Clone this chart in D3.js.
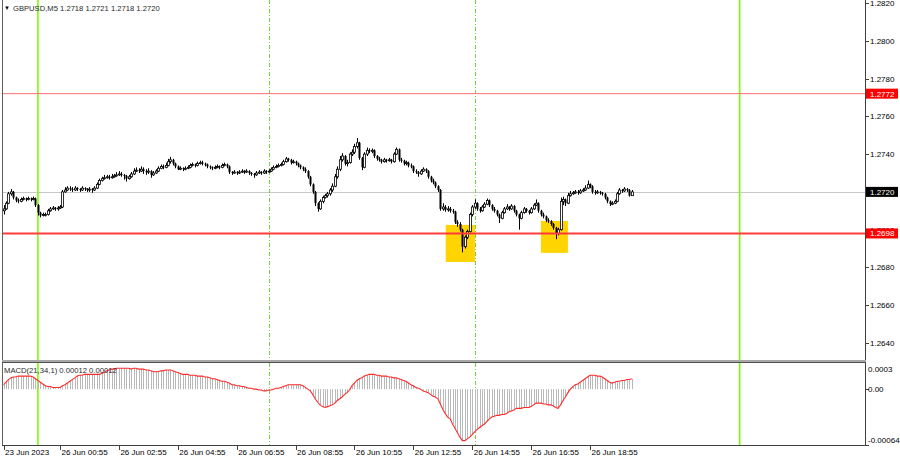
<!DOCTYPE html>
<html><head><meta charset="utf-8">
<script src="https://cdn.jsdelivr.net/npm/d3@7"></script>
<style>
body{margin:0;background:#fff;}
svg{display:block;}
text{font-family:"Liberation Sans",Arial,sans-serif;font-size:8px;fill:#000;}
</style>
</head><body>
<svg id="c" width="900" height="460"></svg>
<script>
// ---------- DATA ----------
const symbolTitle = "GBPUSD,M5";
const lastOHLC = ["1.2718","1.2721","1.2718","1.2720"];
const macdTitle = "MACD(21,34,1) 0.00012 0.00012";

const opens = [
1.2710,1.2711,1.2714,1.2719,1.2720,1.2717,1.27155,1.2715,1.2716,1.27165,
1.2716,1.27165,1.2716,1.27165,1.2713,1.2709,1.27075,1.2708,1.2708,1.2710,
1.2711,1.27115,1.2711,1.27115,1.2712,1.2720,1.2721,1.2722,1.27215,1.2721,
1.2722,1.27215,1.2721,1.2722,1.27215,1.2721,1.27215,1.2721,1.2722,1.2724,
1.2726,1.2727,1.27275,1.2728,1.27275,1.2728,1.27285,1.2729,1.27295,1.2729,
1.27285,1.2727,1.2728,1.27295,1.2731,1.27315,1.2731,1.2732,1.2731,1.27305,
1.2731,1.2729,1.2730,1.2731,1.27325,1.27335,1.2733,1.2734,1.2736,1.2737,
1.2735,1.27335,1.2732,1.27325,1.2732,1.27325,1.2733,1.2734,1.27345,1.2734,
1.2735,1.27355,1.2735,1.27345,1.27335,1.2733,1.27325,1.2733,1.27335,1.2733,
1.2734,1.27345,1.27335,1.27305,1.2730,1.27305,1.2730,1.27305,1.2731,1.27305,
1.2731,1.2730,1.27295,1.2729,1.2730,1.27305,1.2730,1.2731,1.27305,1.2731,
1.2732,1.2733,1.27335,1.2734,1.27345,1.2736,1.27375,1.2737,1.27355,1.2736,
1.2735,1.2734,1.2733,1.2732,1.2731,1.2728,1.2724,1.2720,1.2714,1.2711,
1.2715,1.2717,1.2718,1.2719,1.2721,1.2723,1.2728,1.2732,1.2737,1.2739,
1.2735,1.27355,1.2740,1.2741,1.2744,1.2746,1.2738,1.2733,1.2740,1.2742,
1.27415,1.2742,1.2739,1.27375,1.2737,1.2736,1.2737,1.27365,1.2737,1.2736,
1.2740,1.27425,1.2737,1.27365,1.2735,1.27355,1.2734,1.27335,1.2731,1.27305,
1.27295,1.2731,1.2732,1.2731,1.2728,1.2726,1.2725,1.2723,1.2721,1.2711,
1.2712,1.27105,1.2711,1.2710,1.27095,1.2704,1.2703,1.2700,1.2691,1.2696,
1.2699,1.2708,1.2712,1.2714,1.2711,1.2710,1.2712,1.27135,1.27155,1.2713,
1.2711,1.2710,1.2708,1.2706,1.2709,1.2711,1.2712,1.2711,1.27125,1.2710,
1.2708,1.2706,1.2709,1.2711,1.2710,1.2709,1.2711,1.2713,1.2714,1.2710,
1.2708,1.2707,1.2705,1.27045,1.2703,1.2701,1.2698,1.2700,1.2715,1.2716,
1.2714,1.2718,1.2719,1.27195,1.2720,1.27195,1.27205,1.2721,1.2722,1.2724,
1.2723,1.2720,1.27195,1.2720,1.27195,1.2719,1.2717,1.2715,1.27135,1.2714,
1.2715,1.2719,1.2721,1.27205,1.27215,1.2721,1.2718];

const highs = [
1.2713,1.2715,1.2720,1.27215,1.27205,1.27175,1.27165,1.2717,1.27175,1.2717,
1.27175,1.2717,1.27175,1.2717,1.27135,1.27095,1.2709,1.2709,1.2711,1.2712,
1.27125,1.2712,1.27125,1.2713,1.2721,1.27225,1.2723,1.2723,1.27225,1.2723,
1.27225,1.2722,1.2723,1.27225,1.2722,1.27225,1.2722,1.2723,1.2725,1.2727,
1.2728,1.2729,1.2729,1.2729,1.27295,1.27295,1.27305,1.2731,1.27305,1.27295,
1.2729,1.2729,1.27305,1.27325,1.2733,1.27325,1.27335,1.2733,1.2732,1.27325,
1.27315,1.2731,1.2732,1.27335,1.27345,1.27345,1.27355,1.27375,1.27385,1.27375,
1.27355,1.2734,1.27335,1.2733,1.27335,1.2734,1.2735,1.27355,1.2735,1.2736,
1.27365,1.27365,1.27355,1.2735,1.2734,1.27335,1.2734,1.27345,1.2734,1.2735,
1.27355,1.2735,1.2734,1.2731,1.27315,1.2731,1.27315,1.2732,1.27315,1.2732,
1.27315,1.27305,1.2730,1.2731,1.27315,1.2731,1.2732,1.27315,1.2732,1.2733,
1.2734,1.27345,1.2735,1.27355,1.2737,1.27385,1.2738,1.27375,1.2737,1.27365,
1.27355,1.27345,1.27335,1.2733,1.27315,1.27285,1.27245,1.27205,1.27145,1.2716,
1.2718,1.2719,1.2720,1.2722,1.27245,1.27295,1.27335,1.2739,1.27405,1.27395,
1.2737,1.2741,1.27425,1.27455,1.27485,1.27465,1.27385,1.2741,1.27435,1.2743,
1.2743,1.27425,1.27395,1.27385,1.27375,1.2738,1.27375,1.2738,1.27375,1.2741,
1.27435,1.2743,1.2738,1.2737,1.27365,1.2736,1.2735,1.2734,1.2732,1.2731,
1.2732,1.2733,1.27325,1.27315,1.27285,1.2727,1.27255,1.27235,1.27215,1.2714,
1.2713,1.27125,1.2712,1.2711,1.2710,1.2705,1.2704,1.27005,1.2697,1.2700,
1.2709,1.2713,1.2716,1.27145,1.2712,1.2713,1.27145,1.27165,1.2716,1.27135,
1.2712,1.27105,1.27085,1.2710,1.2712,1.27135,1.27125,1.27135,1.2713,1.27105,
1.27085,1.2710,1.2712,1.27115,1.27105,1.2712,1.2714,1.2716,1.27145,1.27105,
1.2709,1.27075,1.2706,1.2705,1.27035,1.27015,1.2701,1.2717,1.27175,1.27165,
1.27195,1.27205,1.27205,1.2721,1.2721,1.27215,1.2722,1.27235,1.2726,1.27245,
1.27235,1.2721,1.2721,1.27205,1.2720,1.27195,1.27175,1.27155,1.2715,1.2716,
1.2720,1.2722,1.27215,1.27225,1.2722,1.27215,1.2721];

const lows = [
1.2708,1.27105,1.27135,1.2718,1.2716,1.27145,1.2714,1.27145,1.27155,1.2715,
1.27155,1.2715,1.27155,1.2712,1.27075,1.27065,1.2707,1.2707,1.27075,1.27095,
1.27105,1.2710,1.2710,1.2711,1.27115,1.27195,1.27205,1.27205,1.2720,1.27205,
1.27205,1.2720,1.27205,1.27205,1.2720,1.2720,1.27195,1.27205,1.27215,1.27235,
1.27255,1.27265,1.2727,1.27265,1.2727,1.27275,1.2728,1.27285,1.2728,1.27265,
1.27255,1.27265,1.27275,1.2729,1.27305,1.2730,1.27305,1.27295,1.2729,1.27295,
1.27275,1.27285,1.27295,1.27305,1.2732,1.2732,1.27325,1.27335,1.2735,1.2734,
1.27325,1.27315,1.27315,1.2731,1.27315,1.2732,1.27325,1.27335,1.2733,1.27335,
1.27345,1.2734,1.27335,1.27325,1.2732,1.27315,1.2732,1.27325,1.2732,1.27325,
1.27335,1.27325,1.27295,1.2729,1.27295,1.2729,1.27295,1.2730,1.27295,1.2730,
1.2729,1.27285,1.27275,1.27285,1.27295,1.2729,1.27295,1.27295,1.2730,1.27305,
1.27315,1.27325,1.2733,1.27335,1.2734,1.27355,1.2736,1.27345,1.2735,1.2734,
1.2733,1.2732,1.2731,1.2730,1.2727,1.2723,1.2719,1.27125,1.27095,1.27105,
1.2714,1.27165,1.2717,1.2718,1.2720,1.27225,1.2727,1.2731,1.2736,1.2734,
1.27335,1.2735,1.2739,1.2740,1.2743,1.2737,1.27315,1.27325,1.2739,1.27405,
1.27405,1.2738,1.27365,1.2736,1.2735,1.27355,1.27355,1.2736,1.2735,1.27355,
1.27395,1.2736,1.27355,1.2734,1.2734,1.2733,1.27325,1.2730,1.27295,1.2728,
1.2729,1.27305,1.2730,1.2727,1.2725,1.2724,1.2722,1.2720,1.2710,1.2710,
1.27095,1.27095,1.2709,1.27085,1.2703,1.27015,1.2699,1.2688,1.2690,1.2695,
1.26985,1.2707,1.2711,1.2710,1.2709,1.27095,1.27115,1.2713,1.2712,1.2710,
1.2709,1.2707,1.27035,1.27055,1.27085,1.27105,1.2710,1.27105,1.2709,1.2707,
1.2700,1.27055,1.27085,1.2709,1.2708,1.27085,1.27105,1.27125,1.2709,1.2707,
1.2706,1.2704,1.27035,1.2702,1.2700,1.2695,1.2697,1.26995,1.2713,1.27125,
1.27135,1.27175,1.27185,1.2719,1.27185,1.2719,1.2720,1.27205,1.27215,1.2722,
1.2719,1.27185,1.2719,1.27185,1.2718,1.2716,1.2714,1.27125,1.2713,1.27135,
1.27145,1.27185,1.27195,1.2720,1.2720,1.27175,1.2718];

const closes = [
1.2711,1.2714,1.2719,1.2720,1.2717,1.27155,1.2715,1.2716,1.27165,1.2716,
1.27165,1.2716,1.27165,1.2713,1.2709,1.27075,1.2708,1.2708,1.2710,1.2711,
1.27115,1.2711,1.27115,1.2712,1.2720,1.2721,1.2722,1.27215,1.2721,1.2722,
1.27215,1.2721,1.2722,1.27215,1.2721,1.27215,1.2721,1.2722,1.2724,1.2726,
1.2727,1.27275,1.2728,1.27275,1.2728,1.27285,1.2729,1.27295,1.2729,1.27285,
1.2727,1.2728,1.27295,1.2731,1.27315,1.2731,1.2732,1.2731,1.27305,1.2731,
1.2729,1.2730,1.2731,1.27325,1.27335,1.2733,1.2734,1.2736,1.2737,1.2735,
1.27335,1.2732,1.27325,1.2732,1.27325,1.2733,1.2734,1.27345,1.2734,1.2735,
1.27355,1.2735,1.27345,1.27335,1.2733,1.27325,1.2733,1.27335,1.2733,1.2734,
1.27345,1.27335,1.27305,1.2730,1.27305,1.2730,1.27305,1.2731,1.27305,1.2731,
1.2730,1.27295,1.2729,1.2730,1.27305,1.2730,1.2731,1.27305,1.2731,1.2732,
1.2733,1.27335,1.2734,1.27345,1.2736,1.27375,1.2737,1.27355,1.2736,1.2735,
1.2734,1.2733,1.2732,1.2731,1.2728,1.2724,1.2720,1.2714,1.2711,1.2715,
1.2717,1.2718,1.2719,1.2721,1.2723,1.2728,1.2732,1.2737,1.2739,1.2735,
1.27355,1.2740,1.2741,1.2744,1.2746,1.2738,1.2733,1.2740,1.2742,1.27415,
1.2742,1.2739,1.27375,1.2737,1.2736,1.2737,1.27365,1.2737,1.2736,1.2740,
1.27425,1.2737,1.27365,1.2735,1.27355,1.2734,1.27335,1.2731,1.27305,1.27295,
1.2731,1.2732,1.2731,1.2728,1.2726,1.2725,1.2723,1.2721,1.2711,1.2712,
1.27105,1.2711,1.2710,1.27095,1.2704,1.2703,1.2700,1.2691,1.2696,1.2699,
1.2708,1.2712,1.2714,1.2711,1.2710,1.2712,1.27135,1.27155,1.2713,1.2711,
1.2710,1.2708,1.2706,1.2709,1.2711,1.2712,1.2711,1.27125,1.2710,1.2708,
1.2706,1.2709,1.2711,1.2710,1.2709,1.2711,1.2713,1.2714,1.2710,1.2708,
1.2707,1.2705,1.27045,1.2703,1.2701,1.2698,1.2700,1.2715,1.2716,1.2714,
1.2718,1.2719,1.27195,1.2720,1.27195,1.27205,1.2721,1.2722,1.2724,1.2723,
1.2720,1.27195,1.2720,1.27195,1.2719,1.2717,1.2715,1.27135,1.2714,1.2715,
1.2719,1.2721,1.27205,1.27215,1.2721,1.2718,1.2720];

const macd = [
0.00005,0.00008,0.00011,0.00013,0.00014,0.00014,0.00015,0.00015,0.00015,0.00015,
0.00015,0.00015,0.00014,0.00012,0.00010,0.00008,0.00006,0.00004,0.00003,0.00003,
0.00002,0.00002,0.00002,0.00002,0.00004,0.00005,0.00007,0.00009,0.00011,0.00013,
0.00015,0.00016,0.00016,0.00017,0.00017,0.00017,0.00017,0.00017,0.00017,0.00017,
0.00018,0.00019,0.00021,0.00022,0.00023,0.00023,0.00024,0.00024,0.00024,0.00024,
0.00024,0.00024,0.00023,0.00024,0.00024,0.00023,0.00023,0.00023,0.00022,0.00022,
0.00021,0.00020,0.00020,0.00020,0.00021,0.00021,0.00022,0.00022,0.00022,0.00021,
0.00020,0.00019,0.00018,0.00017,0.00017,0.00017,0.00016,0.00016,0.00016,0.00015,
0.00015,0.00015,0.00014,0.00014,0.00013,0.00012,0.00012,0.00011,0.00010,0.00009,
0.00009,0.00008,0.00007,0.00005,0.00005,0.00004,0.00004,0.00003,0.00003,0.00002,
0.00001,0.00001,0,0,-0.00001,-0.00001,-0.00002,-0.00002,-0.00001,-0.00001,
0,0.00001,0.00001,0.00002,0.00003,0.00004,0.00005,0.00005,0.00005,0.00005,
0.00005,0.00005,0.00004,0.00002,0,-0.00002,-0.00006,-0.00011,-0.00015,-0.00018,
-0.00020,-0.00021,-0.00020,-0.00019,-0.00018,-0.00016,-0.00013,-0.00011,-0.00009,-0.00006,
-0.00004,-0.00001,0.00004,0.00007,0.00010,0.00012,0.00013,0.00015,0.00016,0.00017,
0.00017,0.00017,0.00016,0.00016,0.00015,0.00015,0.00015,0.00014,0.00014,0.00013,
0.00013,0.00012,0.00011,0.00010,0.00009,0.00007,0.00005,0.00004,0.00002,0.00001,
0,-0.00002,-0.00003,-0.00004,-0.00006,-0.00008,-0.00009,-0.00011,-0.00017,-0.00023,
-0.00028,-0.00032,-0.00034,-0.00040,-0.00045,-0.00050,-0.00055,-0.00059,-0.00059,-0.00057,
-0.00055,-0.00052,-0.00049,-0.00046,-0.00044,-0.00042,-0.00040,-0.00037,-0.00034,-0.00032,
-0.00031,-0.00030,-0.00030,-0.00029,-0.00029,-0.00028,-0.00026,-0.00025,-0.00024,-0.00022,
-0.00022,-0.00022,-0.00021,-0.00021,-0.00021,-0.00020,-0.00018,-0.00016,-0.00016,-0.00016,
-0.00017,-0.00017,-0.00018,-0.00018,-0.00019,-0.00021,-0.00022,-0.00018,-0.00013,-0.00009,
-0.00004,0,0.00003,0.00005,0.00006,0.00008,0.00010,0.00012,0.00014,0.00016,
0.00016,0.00016,0.00015,0.00015,0.00014,0.00012,0.00010,0.00008,0.00007,0.00008,
0.00009,0.00009,0.00010,0.00010,0.00011,0.00011,0.00012];

const priceTicks = [1.2820,1.2800,1.2780,1.2760,1.2740,1.2720,1.2700,1.2680,1.2660,1.2640];
const macdTickValues = [0.0003, 0, -0.00064];
const macdTickLabels = ["0.0003","0.00","-0.00064"];
const timeTickBars = [0,23,47,71,95,119,143,167,191,215,239];
const timeTickLabels = ["23 Jun 2023","26 Jun 00:55","26 Jun 02:55","26 Jun 04:55","26 Jun 06:55",
  "26 Jun 08:55","26 Jun 10:55","26 Jun 12:55","26 Jun 14:55","26 Jun 16:55","26 Jun 18:55"];
const levelPrices = [1.2772, 1.2698];
const bidPrice = 1.2720;
const dayLineBars = [14, 300];
const sessionLineBars = [108, 192];
// yellow zones: [startBar, endBar] and [topPrice, bottomPrice]
const zoneBars = [[180.2, 192.1], [219.0, 230.0]];
const zonePrices = [[1.27025, 1.26829], [1.27046, 1.26877]];

// ---------- LAYOUT ----------
const L = 2, R = 865, mainTop = 0, mainBot = 360, mTop = 363, mBot = 445;
const x = d3.scaleLinear().domain([0, 256]).range([3.57, 631.7]);
const y = d3.scaleLinear().domain([1.2640, 1.2820]).range([343, 3]);
const ym = d3.scaleLinear().domain([-0.00064, 0.0003]).range([mBot, mTop]);
const fmt4 = d3.format(".4f");

const svg = d3.select("#c");
const defs = svg.append("defs");
defs.append("clipPath").attr("id","cm").append("rect").attr("x",L).attr("y",mainTop).attr("width",R-L).attr("height",mainBot-mainTop);
defs.append("clipPath").attr("id","cd").append("rect").attr("x",L).attr("y",mTop).attr("width",R-L).attr("height",mBot-mTop);

const gm = svg.append("g").attr("clip-path","url(#cm)");
const gd = svg.append("g").attr("clip-path","url(#cd)");

// zones
gm.selectAll("rect.zone").data(zoneBars).join("rect").attr("class","zone")
  .attr("x", d => x(d[0])).attr("width", d => x(d[1]) - x(d[0]))
  .attr("y", (d,i) => y(zonePrices[i][0]))
  .attr("height", (d,i) => y(zonePrices[i][1]) - y(zonePrices[i][0]))
  .attr("fill", "#ffd400");

// bid line
gm.append("line").attr("x1",L).attr("x2",R).attr("y1",Math.round(y(bidPrice))+0.5).attr("y2",Math.round(y(bidPrice))+0.5)
  .attr("stroke","#c8c8c8").attr("stroke-width",1);

// vertical lines in both panels
[[gm, mainTop, mainBot],[gd, mTop, mBot]].forEach(([g, t, b]) => {
  g.selectAll("line.day").data(dayLineBars).join("line").attr("class","day")
    .attr("x1", d => x(d)).attr("x2", d => x(d)).attr("y1", t).attr("y2", b)
    .attr("stroke","#7cfc00").attr("stroke-width",1.6);
  g.selectAll("line.sess").data(sessionLineBars).join("line").attr("class","sess")
    .attr("x1", d => Math.round(x(d))+0.5).attr("x2", d => Math.round(x(d))+0.5).attr("y1", t).attr("y2", b)
    .attr("stroke","#78d23c").attr("stroke-width",1).attr("stroke-dasharray","4,2,1,2");
});

// candles
const idx = d3.range(closes.length);
const cg = gm.append("g");
cg.selectAll("line.wick").data(idx).join("line").attr("class","wick")
  .attr("x1", i => Math.round(x(i))+0.5).attr("x2", i => Math.round(x(i))+0.5)
  .attr("y1", i => y(highs[i])).attr("y2", i => y(lows[i]))
  .attr("stroke","#000").attr("stroke-width",1);
cg.selectAll("rect.body").data(idx).join("rect").attr("class","body")
  .attr("x", i => Math.round(x(i)) - 0.5).attr("width", 2)
  .attr("y", i => y(Math.max(opens[i], closes[i])))
  .attr("height", i => Math.max(1, Math.abs(y(opens[i]) - y(closes[i]))))
  .attr("fill", i => closes[i] >= opens[i] ? "#ffffff" : "#000000")
  .attr("stroke", "#000").attr("stroke-width", i => closes[i] >= opens[i] ? 0.8 : 0);

// level lines
gm.append("line").attr("x1",L).attr("x2",R).attr("y1",y(levelPrices[0])).attr("y2",y(levelPrices[0]))
  .attr("stroke","#ff7070").attr("stroke-width",1);
gm.append("line").attr("x1",L).attr("x2",R).attr("y1",y(levelPrices[1])).attr("y2",y(levelPrices[1]))
  .attr("stroke","#ff3b3b").attr("stroke-width",2);

// MACD histogram
gd.selectAll("line.hist").data(idx).join("line").attr("class","hist")
  .attr("x1", i => Math.round(x(i))+0.5).attr("x2", i => Math.round(x(i))+0.5)
  .attr("y1", ym(0)).attr("y2", i => ym(macd[i]))
  .attr("stroke","#b8b8b8").attr("stroke-width",1);
gd.append("path").datum(idx)
  .attr("d", d3.line().x(i => x(i)).y(i => ym(macd[i])))
  .attr("fill","none").attr("stroke","#ff2a2a").attr("stroke-width",1.1);

// frames
svg.append("line").attr("x1",L+0.5).attr("x2",L+0.5).attr("y1",0).attr("y2",mBot).attr("stroke","#606060");
svg.append("line").attr("x1",R+0.5).attr("x2",R+0.5).attr("y1",0).attr("y2",mBot+1).attr("stroke","#404040");
svg.append("rect").attr("x",L).attr("y",mainBot).attr("width",R-L+1).attr("height",2.5).attr("fill","#a8a8a8");
svg.append("line").attr("x1",L).attr("x2",R+1).attr("y1",mTop-0.5).attr("y2",mTop-0.5).attr("stroke","#505050");
svg.append("line").attr("x1",L).attr("x2",R+1).attr("y1",mBot+0.5).attr("y2",mBot+0.5).attr("stroke","#404040");

// price axis
const ax = svg.append("g");
ax.selectAll("line.pt").data(priceTicks).join("line").attr("class","pt")
  .attr("x1",R).attr("x2",R+4).attr("y1", d => Math.round(y(d))+0.5).attr("y2", d => Math.round(y(d))+0.5)
  .attr("stroke","#404040");
ax.selectAll("text.pt").data(priceTicks).join("text").attr("class","pt")
  .attr("x", R+5).attr("y", d => y(d) + 3).text(d => fmt4(d));

// price labels (boxes)
const boxes = [[levelPrices[0], "#ff0000"], [bidPrice, "#000000"], [levelPrices[1], "#ff0000"]];
boxes.forEach(([p, col]) => {
  ax.append("rect").attr("x", R+1).attr("y", y(p) - 5).attr("width", 32).attr("height", 10).attr("fill", col);
  ax.append("text").attr("x", R+5).attr("y", y(p) + 3).text(fmt4(p)).style("fill","#ffffff");
});

// macd axis
ax.selectAll("line.mt").data(macdTickValues.slice(1)).join("line").attr("class","mt")
  .attr("x1",R).attr("x2",R+4).attr("y1", d => Math.round(ym(d))+0.5).attr("y2", d => Math.round(ym(d))+0.5)
  .attr("stroke","#404040");
const macdLabelY = [372, 392, 443];
ax.selectAll("text.mt").data(macdTickLabels).join("text").attr("class","mt")
  .attr("x", R+3).attr("y", (d,i) => macdLabelY[i]).text(d => d);

// time axis
const tx = svg.append("g");
tx.selectAll("line.tt").data(timeTickBars).join("line").attr("class","tt")
  .attr("x1", d => Math.round(x(d))+0.5).attr("x2", d => Math.round(x(d))+0.5)
  .attr("y1", mBot).attr("y2", mBot+5).attr("stroke","#404040");
tx.selectAll("text.tt").data(timeTickBars).join("text").attr("class","tt")
  .attr("x", d => x(d) + 1.5).attr("y", 455).text((d,i) => timeTickLabels[i]);

// titles (sized to fit the widths seen in the reference)
function fitWidth(sel, target) {
  const w = sel.node().getComputedTextLength();
  const fs = parseFloat(sel.style("font-size"));
  if (w > 0) sel.style("font-size", (fs * target / w).toFixed(2) + "px");
}
svg.append("text").attr("x",4).attr("y",10).style("font-size","6px").text("▼");
const t1 = svg.append("text").attr("x",13).attr("y",11).style("fill","#2a2a2a").style("font-size","8px")
  .text(symbolTitle + " " + lastOHLC.join(" "));
fitWidth(t1, 147);
const t2 = svg.append("text").attr("x",4).attr("y",373).style("fill","#2a2a2a").style("font-size","8px").text(macdTitle);
fitWidth(t2, 113);
</script>
</body></html>
